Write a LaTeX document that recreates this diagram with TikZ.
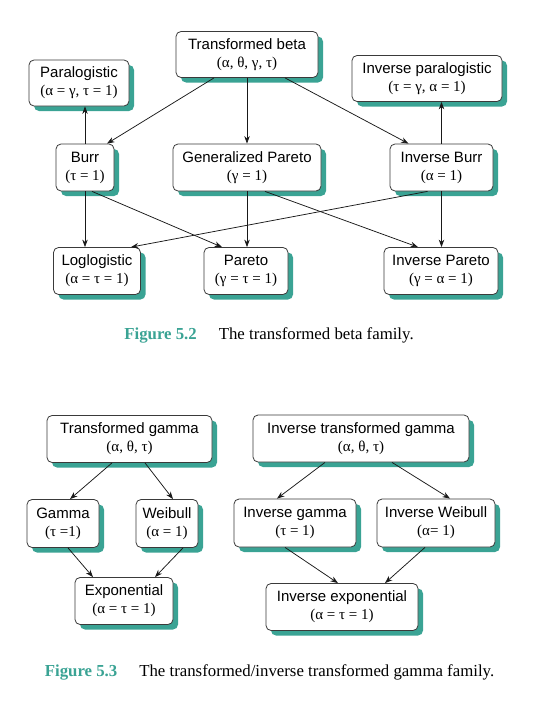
\documentclass[tikz,border=0pt]{standalone}
\usepackage{fontspec}
\setmainfont{Liberation Serif}
\setsansfont{Liberation Sans}
\usepackage{tikz}
\usetikzlibrary{arrows.meta,shadows}
\definecolor{FamTeal}{HTML}{3AA394}
\definecolor{FamRule}{HTML}{3A3A3A}
\newcommand{\famName}[2]{\textsf{#1}\\#2}

\begin{document}
\begin{tikzpicture}[
  x=1pt,y=-1pt,
  fam/.style={draw=FamRule,line width=0.8pt,rounded corners=5pt,fill=white,align=center,inner sep=0pt,
    font=\fontsize{15}{18}\selectfont,
    drop shadow={shadow xshift=5pt,shadow yshift=-5pt,fill=FamTeal,opacity=1}},
  edge/.style={-{Stealth[length=7.5pt,width=5.5pt]},draw=black!90,line width=0.75pt},
  caption/.style={font=\fontsize{16.8}{20}\selectfont}
]
\useasboundingbox (0,0) rectangle (537,701);

% transformed beta family
\node[fam,minimum width=142pt,minimum height=46pt] (tbeta) at (247,54.5) {\famName{Transformed beta}{(α, θ, γ, τ)}};
\node[fam,minimum width=100pt,minimum height=46pt] (paralog) at (79,83) {\famName{Paralogistic}{(α = γ, τ = 1)}};
\node[fam,minimum width=150pt,minimum height=46pt] (invparalog) at (427,78.5) {\famName{Inverse paralogistic}{(τ = γ, α = 1)}};
\node[fam,minimum width=58pt,minimum height=47pt] (burr) at (85,167.5) {\famName{Burr}{(τ = 1)}};
\node[fam,minimum width=148pt,minimum height=47pt] (genpareto) at (247,167.5) {\famName{Generalized Pareto}{(γ = 1)}};
\node[fam,minimum width=103pt,minimum height=47pt] (invburr) at (441.5,167.5) {\famName{Inverse Burr}{(α = 1)}};
\node[fam,minimum width=87pt,minimum height=47pt] (loglog) at (97,271) {\famName{Loglogistic}{(α = τ = 1)}};
\node[fam,minimum width=84pt,minimum height=47pt] (pareto) at (246,271) {\famName{Pareto}{(γ = τ = 1)}};
\node[fam,minimum width=114pt,minimum height=47pt] (invpareto) at (441,271) {\famName{Inverse Pareto}{(γ = α = 1)}};

\draw[edge] ([xshift=-33pt]tbeta.south) -- ([xshift=22pt]burr.north);
\draw[edge] (tbeta.south) -- (tbeta.south |- genpareto.north);
\draw[edge] ([xshift=38pt]tbeta.south) -- ([xshift=-33pt]invburr.north);
\draw[edge] (burr.north) -- (burr.north |- paralog.south);
\draw[edge] (invburr.north) -- (invburr.north |- invparalog.south);
\draw[edge] (burr.south) -- (burr.south |- loglog.north);
\draw[edge] ([xshift=7pt]burr.south) -- ([xshift=-24pt]pareto.north);
\draw[edge] (genpareto.south) -- (genpareto.south |- pareto.north);
\draw[edge] ([xshift=18pt]genpareto.south) -- ([xshift=-23pt]invpareto.north);
\draw[edge] ([xshift=-14pt]invburr.south) -- ([xshift=34pt]loglog.north);
\draw[edge] (invburr.south) -- (invburr.south |- invpareto.north);

\node[caption] (capbeta) at (269,335) {\textcolor{FamTeal}{\textbf{Figure 5.2}}\hspace{22pt}The transformed beta family.};

% transformed gamma family
\node[fam,minimum width=165pt,minimum height=47pt] (tgamma) at (129.5,439) {\famName{Transformed gamma}{(α, θ, τ)}};
\node[fam,minimum width=216pt,minimum height=47pt] (invtgamma) at (361,438.5) {\famName{Inverse transformed gamma}{(α, θ, τ)}};
\node[fam,minimum width=72pt,minimum height=48pt] (gamma) at (63,523.5) {\famName{Gamma}{(τ =1)}};
\node[fam,minimum width=62pt,minimum height=48pt] (weibull) at (167,523.5) {\famName{Weibull}{(α = 1)}};
\node[fam,minimum width=122pt,minimum height=48pt] (invgamma) at (295,523) {\famName{Inverse gamma}{(τ = 1)}};
\node[fam,minimum width=118pt,minimum height=48pt] (invweibull) at (436,523) {\famName{Inverse Weibull}{(α= 1)}};
\node[fam,minimum width=98pt,minimum height=47pt] (expo) at (124,601) {\famName{Exponential}{(α = τ = 1)}};
\node[fam,minimum width=152pt,minimum height=47pt] (invexpo) at (342,607) {\famName{Inverse exponential}{(α = τ = 1)}};

\draw[edge] ([xshift=-17.5pt]tgamma.south) -- ([xshift=7pt]gamma.north);
\draw[edge] ([xshift=15.5pt]tgamma.south) -- ([xshift=6pt]weibull.north);
\draw[edge] ([xshift=5pt]gamma.south) -- ([xshift=-31pt]expo.north);
\draw[edge] ([xshift=16pt]weibull.south) -- ([xshift=31pt]expo.north);
\draw[edge] ([xshift=-36pt]invtgamma.south) -- ([xshift=-18pt]invgamma.north);
\draw[edge] ([xshift=31pt]invtgamma.south) -- ([xshift=14pt]invweibull.north);
\draw[edge] ([xshift=-10pt]invgamma.south) -- ([xshift=-4pt]invexpo.north);
\draw[edge] ([xshift=-11pt]invweibull.south) -- ([xshift=43pt]invexpo.north);

\node[caption] (capgamma) at (269.5,672) {\textcolor{FamTeal}{\textbf{Figure 5.3}}\hspace{22pt}The transformed/inverse transformed gamma family.};
\end{tikzpicture}
\end{document}
